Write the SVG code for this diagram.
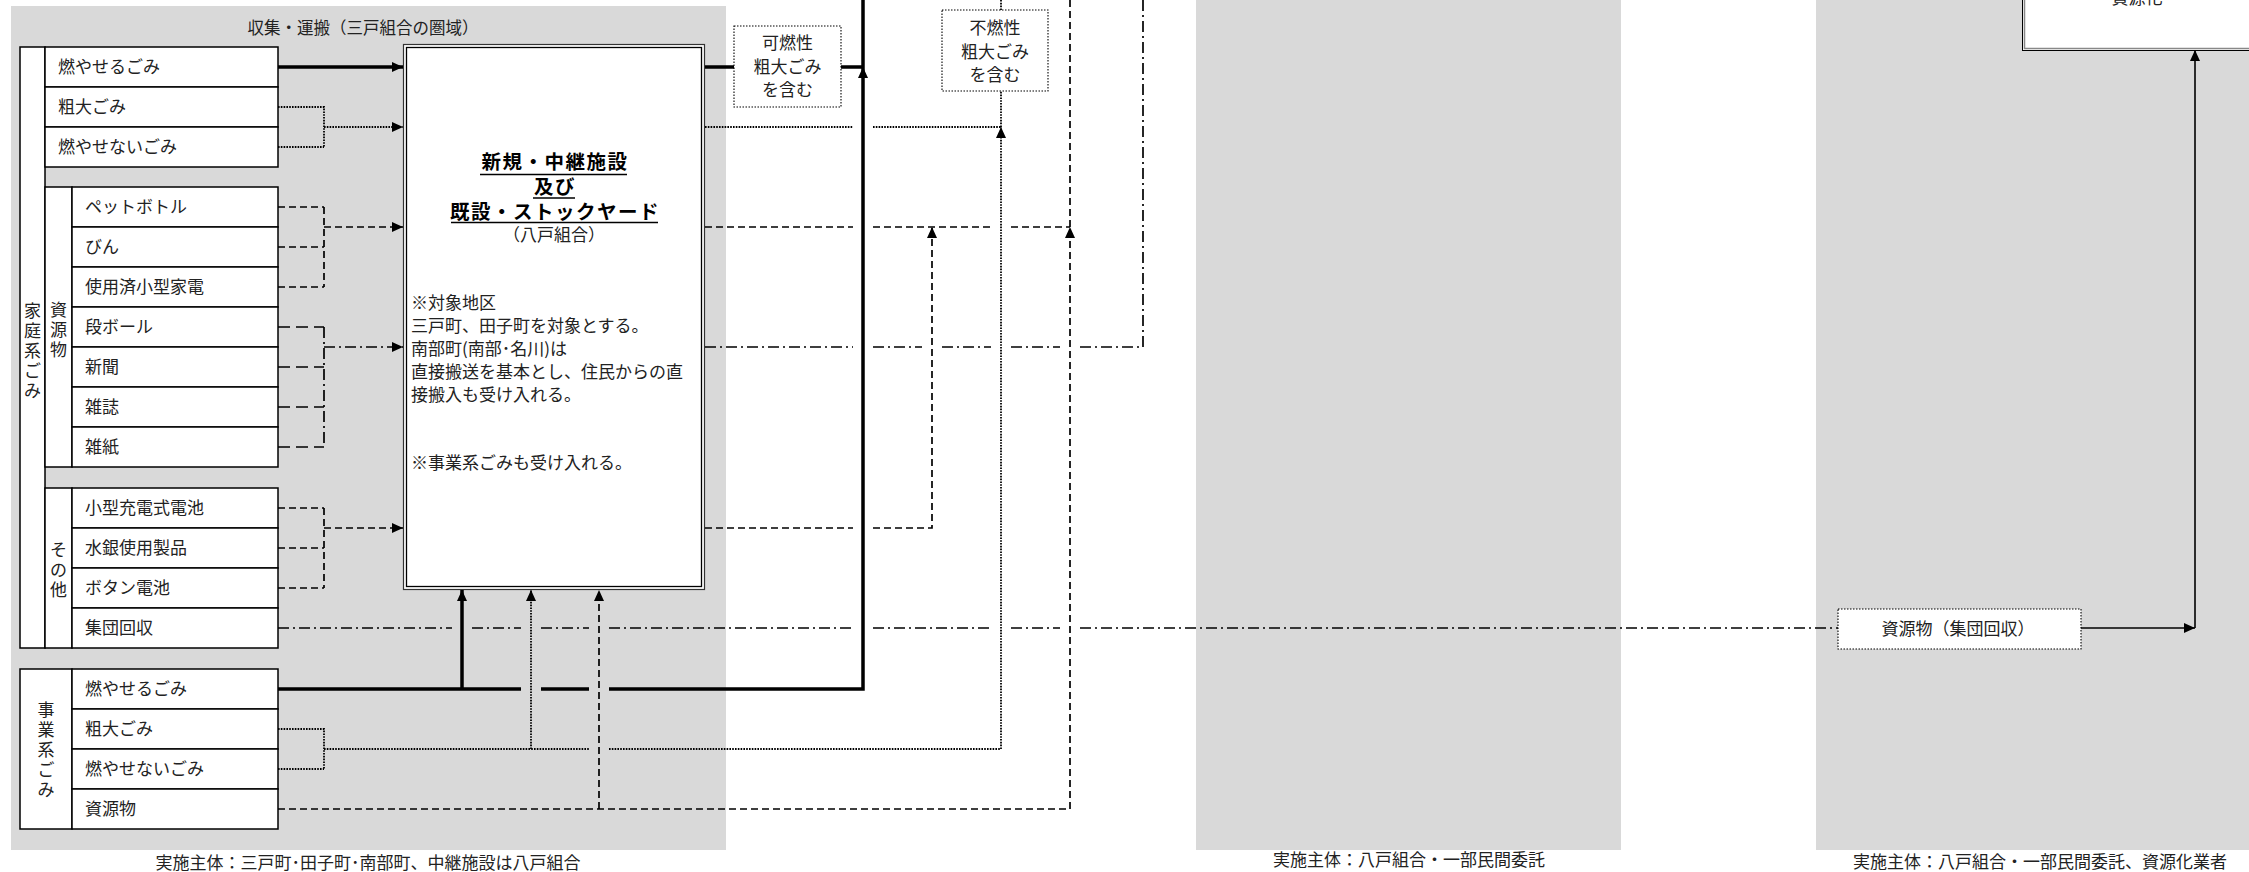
<svg xmlns="http://www.w3.org/2000/svg" width="2249" height="872" viewBox="0 0 2249 872">
<style>
text{font-family:"Noto Sans CJK JP","Noto Sans",sans-serif;font-size:17px;fill:#222}
.c{text-anchor:middle}
.ttl{font-size:19.5px;font-weight:bold;fill:#000;letter-spacing:1.5px}
.panel{fill:#d9d9d9}
.box{fill:#fff;stroke:#000;stroke-width:1.5}
.lbl{fill:#fff;stroke:#000;stroke-width:1.1;stroke-dasharray:1.5 1.5}
.thick{stroke-width:3.5}
.thin{stroke-width:1.6}
.dot{stroke-width:1.8;stroke-dasharray:1.6 1.2}
.dash{stroke-width:1.7;stroke-dasharray:7 4}
.dashL{stroke-width:1.7;stroke-dasharray:12 6}
.dd{stroke-width:1.7;stroke-dasharray:11 4 2 4}
</style>
<defs>
<marker id="ah" markerUnits="userSpaceOnUse" markerWidth="11" markerHeight="10" refX="11" refY="5" orient="auto">
<path d="M0,0 L11,5 L0,10 Z" fill="#000"/>
</marker>
</defs>
<rect width="2249" height="872" fill="#fff"/>
<g id="panels">
<rect class="panel" x="11" y="6" width="715" height="844"/>
<rect class="panel" x="1196" y="0" width="425" height="850"/>
<rect class="panel" x="1816" y="0" width="433" height="850"/>
<text class="c" x="363" y="34" style="font-size:16.5px">収集・運搬（三戸組合の圏域）</text>
<text class="c" x="368" y="869">実施主体：三戸町･田子町･南部町、中継施設は八戸組合</text>
<text class="c" x="1409" y="866">実施主体：八戸組合・一部民間委託</text>
<text class="c" x="2040" y="868">実施主体：八戸組合・一部民間委託、資源化業者</text>
</g>
<g id="household">
<rect class="box" x="20" y="47" width="25" height="601"/>
<text class="c" x="32.5 32.5 32.5 32.5 32.5" y="317 337 357 377 397">家庭系ごみ</text>
<rect class="box" x="45" y="47" width="233" height="40"/>
<text x="58" y="73">燃やせるごみ</text>
<rect class="box" x="45" y="87" width="233" height="40"/>
<text x="58" y="113">粗大ごみ</text>
<rect class="box" x="45" y="127" width="233" height="40"/>
<text x="58" y="153">燃やせないごみ</text>
</g>
<g id="resources">
<rect class="box" x="45" y="187" width="27" height="280"/>
<text class="c" x="58.5 58.5 58.5" y="316 336 356">資源物</text>
<rect class="box" x="72" y="187" width="206" height="40"/>
<text x="85" y="213">ペットボトル</text>
<rect class="box" x="72" y="227" width="206" height="40"/>
<text x="85" y="253">びん</text>
<rect class="box" x="72" y="267" width="206" height="40"/>
<text x="85" y="293">使用済小型家電</text>
<rect class="box" x="72" y="307" width="206" height="40"/>
<text x="85" y="333">段ボール</text>
<rect class="box" x="72" y="347" width="206" height="40"/>
<text x="85" y="373">新聞</text>
<rect class="box" x="72" y="387" width="206" height="40"/>
<text x="85" y="413">雑誌</text>
<rect class="box" x="72" y="427" width="206" height="40"/>
<text x="85" y="453">雑紙</text>
</g>
<g id="others">
<rect class="box" x="45" y="488" width="27" height="160"/>
<text class="c" x="58.5 58.5 58.5" y="556 576 596">その他</text>
<rect class="box" x="72" y="488" width="206" height="40"/>
<text x="85" y="514">小型充電式電池</text>
<rect class="box" x="72" y="528" width="206" height="40"/>
<text x="85" y="554">水銀使用製品</text>
<rect class="box" x="72" y="568" width="206" height="40"/>
<text x="85" y="594">ボタン電池</text>
<rect class="box" x="72" y="608" width="206" height="40"/>
<text x="85" y="634">集団回収</text>
</g>
<g id="business">
<rect class="box" x="20" y="669" width="52" height="160"/>
<text class="c" x="46 46 46 46 46" y="716 736 756 776 796">事業系ごみ</text>
<rect class="box" x="72" y="669" width="206" height="40"/>
<text x="85" y="695">燃やせるごみ</text>
<rect class="box" x="72" y="709" width="206" height="40"/>
<text x="85" y="735">粗大ごみ</text>
<rect class="box" x="72" y="749" width="206" height="40"/>
<text x="85" y="775">燃やせないごみ</text>
<rect class="box" x="72" y="789" width="206" height="40"/>
<text x="85" y="815">資源物</text>
</g>
<g id="relay">
<rect x="403.5" y="44.5" width="301" height="545" fill="#fff" stroke="#333" stroke-width="1.2"/>
<rect x="406.5" y="47.5" width="295" height="539" fill="#fff" stroke="#000" stroke-width="1.3"/>
<text class="c ttl" x="555" y="169">新規・中継施設</text>
<text class="c ttl" x="555" y="194">及び</text>
<text class="c ttl" x="555" y="219">既設・ストックヤード</text>
<path d="M480 174.5 H627 M533 198 H575 M451 222.5 H658" stroke="#000" stroke-width="1.6"/>
<text class="c" x="554" y="241">（八戸組合）</text>
<text x="411" y="309">※対象地区</text>
<text x="411" y="332">三戸町、田子町を対象とする。</text>
<text x="411" y="355">南部町(南部･名川)は</text>
<text x="411" y="378">直接搬送を基本とし、住民からの直</text>
<text x="411" y="401">接搬入も受け入れる。</text>
<text x="411" y="469">※事業系ごみも受け入れる。</text>
</g>
<g id="connectors" fill="none" stroke="#000">
<path class="thick" d="M278 67 H403" marker-end="url(#ah)"/>
<path class="dot" d="M278 107 H324 V147 M278 147 H324 M324 127 H403" marker-end="url(#ah)"/>
<path class="dash" d="M278 207 H324 M278 247 H324 M278 287 H324 M324 207 V287 M324 227 H403" marker-end="url(#ah)"/>
<path class="dashL" d="M278 327 H324 M278 367 H324 M278 407 H324 M278 447 H324"/>
<path class="dd" d="M324 327 V447 M324 347 H403" marker-end="url(#ah)"/>
<path class="dash" d="M278 508 H324 M278 548 H324 M278 588 H324 M324 508 V588 M324 528 H403" marker-end="url(#ah)"/>
<path class="dd" d="M278 628 H452 M472 628 H521 M541 628 H589 M609 628 H853 M873 628 H991 M1011 628 H1060 M1080 628 H1838"/>
<path class="thick" d="M278 689 H521 M541 689 H589 M609 689 H863 V67" marker-end="url(#ah)"/>
<path class="thick" d="M863 67 V0 M705 67 H734 M841 67 H863"/>
<path class="thick" d="M462 689 V590" marker-end="url(#ah)"/>
<path class="dot" d="M278 729 H324 V769 M278 769 H324"/>
<path class="dot" d="M324 749 H589 M609 749 H1001 V127" marker-end="url(#ah)"/>
<path class="dot" d="M531 749 V590" marker-end="url(#ah)"/>
<path class="dot" d="M1001 127 V91 M1001 10 V0 M705 127 H853 M873 127 H1001"/>
<path class="dash" d="M278 809 H1070 V227" marker-end="url(#ah)"/>
<path class="dash" d="M599 809 V590" marker-end="url(#ah)"/>
<path class="dash" d="M1070 227 V0 M705 227 H853 M873 227 H991 M1011 227 H1070"/>
<path class="dd" d="M705 347 H853 M873 347 H922 M942 347 H991 M1011 347 H1060 M1080 347 H1143 V0"/>
<path class="dash" d="M705 528 H853 M873 528 H932 V227" marker-end="url(#ah)"/>
<path class="thin" d="M2081 628 H2195" marker-end="url(#ah)"/>
<path class="thin" d="M2195 628 V50" marker-end="url(#ah)"/>
</g>
<g id="label-combustible">
<rect class="lbl" x="734" y="26" width="107" height="81"/>
<text class="c" x="787.5" y="49">可燃性</text>
<text class="c" x="787.5" y="73">粗大ごみ</text>
<text class="c" x="787.5" y="96">を含む</text>
</g>
<g id="label-noncombustible">
<rect class="lbl" x="942" y="10" width="106" height="81"/>
<text class="c" x="995" y="34">不燃性</text>
<text class="c" x="995" y="58">粗大ごみ</text>
<text class="c" x="995" y="81">を含む</text>
</g>
<g id="group-collection">
<rect class="lbl" x="1838" y="609" width="243" height="40"/>
<text class="c" x="1958" y="635">資源物（集団回収）</text>
</g>
<g id="recycling">
<rect x="2022.5" y="-10" width="240" height="60.5" fill="#fff" stroke="#000" stroke-width="1"/>
<path d="M2024.5 -10 V48.5 H2262" fill="none" stroke="#888" stroke-width="1.5"/>
<text class="c" x="2137" y="4">資源化</text>
</g>
</svg>
